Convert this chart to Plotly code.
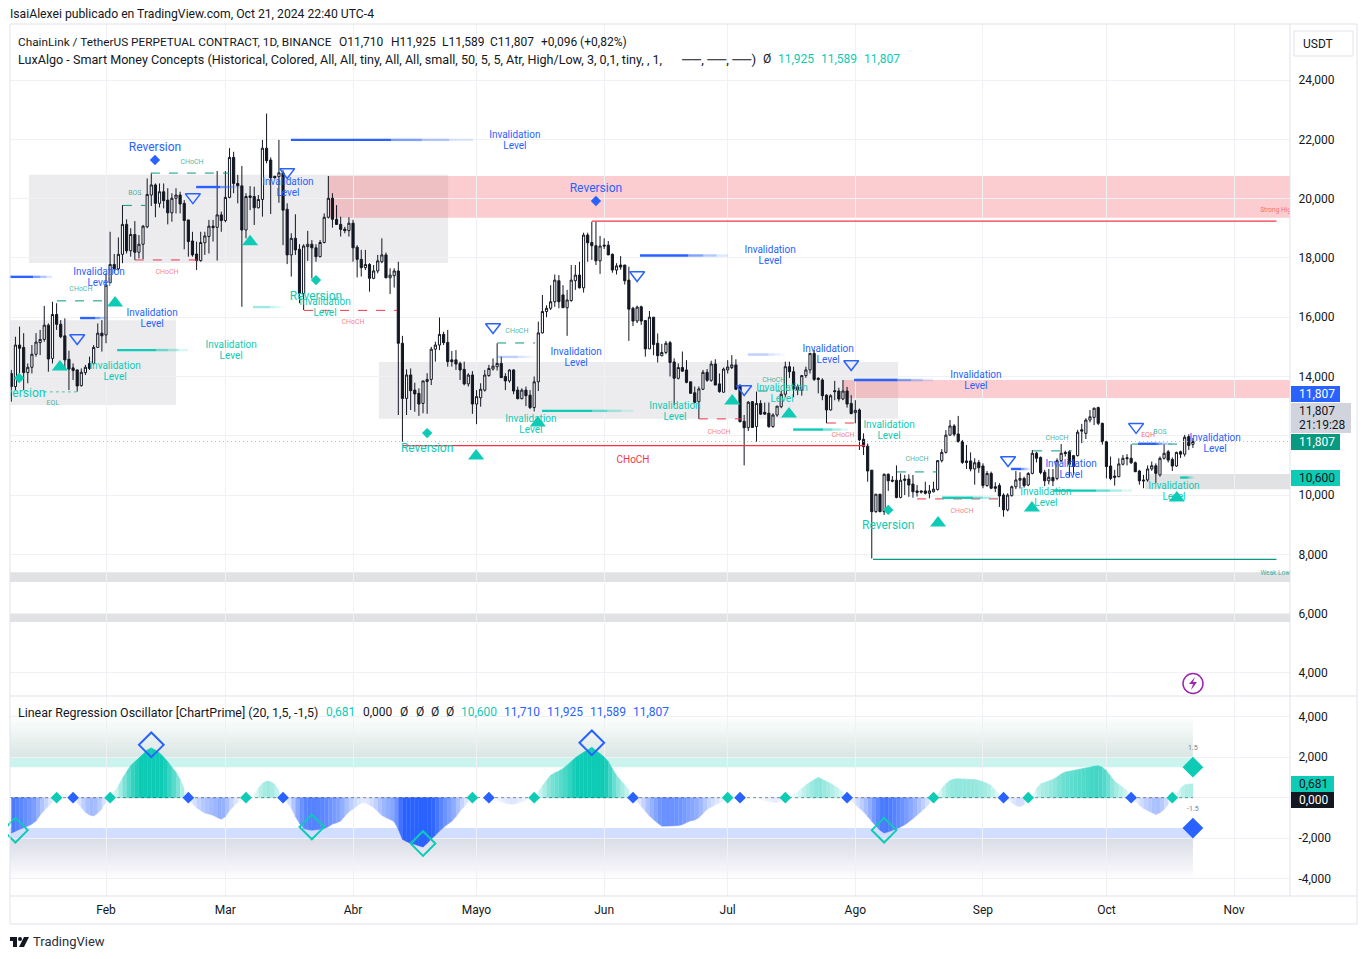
from __future__ import annotations

from datetime import datetime, timedelta

import plotly.graph_objects as go

# the page body keeps its 8 px margin, so the figure is that much smaller
PAGE_MARGIN = 8
WIDTH = 1366 - PAGE_MARGIN
HEIGHT = 959 - PAGE_MARGIN
FONT = "Roboto"

FIRST_BAR = datetime(2024, 1, 9)

# daily OHLC, Jan 9 to Oct 22, one row per month
OPEN = [
    14.10, 13.66, 15.06, 14.98, 14.13, 14.31, 14.75, 15.14, 15.25, 15.73, 14.61, 16.09, 15.76, 15.37, 14.58, 14.29, 14.22, 13.69, 14.13, 14.44, 14.44, 14.98, 15.46,
    15.40, 17.16, 17.78, 17.63, 18.12, 19.13, 18.24, 18.79, 18.19, 18.46, 19.05, 20.12, 20.46, 19.84, 20.23, 19.95, 19.52, 20.01, 20.12, 19.84, 19.28, 18.57, 18.13, 17.91, 18.51, 18.72, 19.07, 19.03, 19.45,
    19.26, 20.04, 21.39, 20.51, 20.43, 18.94, 20.09, 20.07, 19.69, 19.97, 21.70, 21.30, 20.75, 20.74, 20.87, 19.64, 18.10, 18.66, 18.29, 16.80, 18.38, 18.46, 18.34, 18.04, 18.52, 19.37, 20.01, 19.30, 19.13, 18.97, 18.92,
    19.17, 18.36, 17.95, 17.67, 17.78, 17.31, 17.56, 17.87, 18.10, 17.33, 17.40, 17.56, 15.12, 13.26, 14.05, 13.54, 13.43, 13.09, 13.83, 13.90, 14.92, 15.06, 15.42, 15.15, 14.56, 14.56, 14.44, 14.24, 13.75, 14.05,
    13.07, 13.28, 13.54, 14.03, 14.25, 14.33, 14.44, 14.00, 13.85, 14.22, 13.54, 13.25, 13.54, 13.37, 12.95, 13.82, 15.47, 16.19, 16.30, 16.52, 17.23, 16.75, 16.32, 16.56, 17.23, 17.42, 16.99, 18.77, 18.52, 18.41, 17.90,
    18.43, 18.43, 18.12, 17.59, 17.76, 17.76, 17.25, 16.30, 15.87, 16.35, 15.89, 14.93, 16.00, 15.12, 14.70, 14.81, 15.14, 14.49, 13.94, 14.30, 14.22, 13.82, 13.45, 13.15, 13.57, 14.14, 13.87, 14.42, 13.75, 13.47,
    14.22, 14.30, 14.39, 13.71, 12.49, 12.27, 13.15, 12.31, 13.09, 12.79, 12.76, 12.31, 12.70, 12.98, 13.40, 14.33, 14.16, 13.65, 13.54, 14.03, 14.22, 14.78, 13.94, 13.88, 13.37, 12.87, 13.52, 13.51, 13.24, 13.51, 13.09,
    12.78, 12.87, 11.88, 11.65, 10.84, 9.44, 10.03, 9.44, 10.70, 10.50, 10.50, 9.92, 10.54, 10.54, 10.37, 10.14, 10.14, 10.14, 10.06, 10.11, 10.19, 11.16, 11.44, 12.02, 12.33, 12.06, 11.80, 11.15, 11.15, 10.88, 11.10,
    10.98, 10.32, 10.73, 10.28, 10.32, 10.00, 9.50, 9.98, 10.28, 10.50, 10.56, 10.34, 10.73, 11.41, 11.27, 10.77, 10.48, 10.59, 10.56, 11.16, 11.44, 11.46, 11.33, 11.33, 12.20, 12.08, 12.53, 12.62, 12.95, 12.42,
    11.80, 10.98, 10.64, 10.62, 11.04, 11.26, 11.24, 11.09, 10.81, 10.51, 10.51, 10.88, 10.99, 10.68, 11.24, 11.46, 11.20, 10.98, 11.46, 11.38, 11.97, 11.71,
]
HIGH = [
    14.22, 15.34, 15.68, 15.46, 14.44, 15.06, 15.46, 15.57, 16.38, 15.79, 16.52, 16.47, 15.90, 15.96, 14.87, 14.44, 14.24, 14.27, 14.39, 14.67, 15.06, 15.79, 15.90,
    17.48, 18.88, 18.13, 18.69, 19.78, 19.30, 19.00, 19.24, 18.77, 19.11, 20.68, 20.85, 20.51, 20.51, 20.51, 20.35, 20.18, 20.35, 20.23, 19.95, 19.28, 18.88, 18.55, 18.88, 18.88, 19.28, 19.28, 20.93, 19.56,
    20.93, 21.70, 21.58, 20.80, 21.10, 20.18, 20.42, 20.40, 20.12, 21.98, 22.87, 21.39, 20.77, 21.98, 20.96, 19.84, 18.83, 19.47, 18.46, 18.46, 18.91, 18.60, 18.46, 18.60, 19.50, 20.76, 20.18, 19.78, 19.39, 19.05, 19.37,
    19.28, 18.43, 18.27, 18.27, 17.82, 17.76, 18.10, 18.66, 18.18, 17.65, 17.65, 17.87, 15.37, 14.24, 14.27, 13.79, 13.60, 13.85, 14.11, 15.00, 15.17, 15.99, 15.51, 15.57, 14.86, 14.89, 14.50, 14.50, 14.11, 14.18,
    13.54, 13.77, 14.22, 14.39, 14.61, 15.12, 14.67, 14.11, 14.24, 14.24, 13.66, 13.60, 13.66, 13.54, 14.00, 15.85, 16.75, 16.40, 17.08, 17.44, 17.42, 17.08, 16.92, 17.76, 17.76, 17.87, 18.85, 18.85, 19.22, 19.22, 18.74,
    18.66, 18.57, 18.15, 17.82, 18.06, 17.76, 17.70, 16.35, 16.39, 16.39, 15.89, 16.21, 16.00, 15.45, 15.10, 15.20, 15.20, 14.61, 14.44, 14.84, 14.55, 13.82, 13.66, 13.66, 14.22, 14.25, 14.53, 14.58, 14.10, 14.30,
    14.55, 14.72, 14.58, 13.71, 12.70, 13.17, 13.17, 13.49, 13.20, 13.12, 13.12, 12.76, 13.00, 13.52, 14.50, 14.50, 14.33, 13.73, 14.05, 14.33, 14.78, 14.89, 13.97, 13.94, 13.40, 13.40, 13.85, 13.62, 13.88, 13.65, 13.37,
    13.20, 12.92, 12.08, 11.74, 10.84, 10.03, 10.03, 10.73, 10.73, 10.64, 11.00, 10.73, 10.68, 10.70, 10.68, 10.34, 10.15, 10.45, 10.34, 10.45, 11.18, 11.55, 12.19, 12.53, 12.39, 12.67, 11.86, 11.69, 11.44, 11.24, 11.18,
    11.07, 10.81, 10.79, 10.43, 10.40, 10.06, 10.06, 10.32, 10.81, 10.77, 10.62, 10.77, 11.52, 11.46, 11.30, 10.85, 10.88, 10.88, 11.24, 11.72, 11.50, 11.52, 11.35, 12.20, 12.40, 12.59, 12.87, 12.95, 12.98, 12.44,
    11.83, 11.30, 10.85, 11.24, 11.35, 11.38, 11.71, 11.13, 10.85, 10.68, 11.00, 11.13, 11.07, 11.30, 11.71, 11.52, 11.27, 11.46, 11.50, 12.03, 12.05, 11.925,
]
LOW = [
    13.15, 13.54, 14.10, 13.54, 13.77, 14.10, 14.67, 14.72, 15.17, 14.16, 14.44, 15.57, 15.29, 14.27, 13.54, 13.88, 13.49, 13.66, 14.05, 14.22, 14.39, 14.98, 14.84,
    15.12, 17.16, 17.48, 17.59, 17.82, 18.15, 18.04, 17.93, 17.98, 17.96, 19.00, 19.75, 19.37, 19.70, 19.67, 19.13, 19.22, 19.50, 19.50, 18.29, 18.04, 18.04, 17.59, 17.87, 18.10, 18.15, 18.55, 17.91, 18.88,
    19.20, 20.01, 20.18, 19.84, 16.35, 18.66, 19.61, 19.11, 19.67, 19.39, 21.19, 19.48, 20.68, 19.86, 18.43, 17.79, 17.37, 18.10, 16.47, 16.24, 17.90, 17.31, 17.87, 18.02, 18.49, 19.33, 19.02, 19.11, 18.72, 18.83, 18.72,
    17.87, 17.34, 17.37, 17.59, 16.86, 17.28, 17.48, 17.82, 17.31, 16.78, 17.00, 12.70, 11.80, 12.70, 12.87, 12.81, 12.67, 12.76, 12.74, 13.71, 14.50, 14.89, 15.06, 14.33, 14.33, 14.22, 13.88, 13.70, 13.66, 12.74,
    12.39, 12.98, 13.49, 13.99, 14.20, 14.20, 13.96, 13.54, 13.79, 13.40, 13.23, 13.23, 13.00, 12.90, 12.82, 13.51, 15.45, 16.00, 16.24, 16.35, 16.30, 16.32, 15.37, 16.52, 16.92, 16.97, 16.83, 17.87, 17.93, 17.76, 17.46,
    18.30, 18.10, 17.50, 17.44, 17.60, 17.10, 15.20, 15.70, 15.80, 15.74, 14.67, 14.93, 14.72, 14.47, 14.68, 14.75, 14.00, 13.03, 13.90, 14.16, 13.77, 13.43, 13.09, 12.57, 13.54, 13.82, 13.82, 13.71, 13.45, 13.45,
    14.10, 14.25, 13.54, 12.47, 11.00, 12.16, 12.28, 11.80, 12.70, 12.70, 12.27, 12.27, 12.64, 12.93, 13.30, 13.95, 13.30, 13.37, 13.35, 13.95, 14.10, 13.85, 13.43, 13.20, 12.42, 12.85, 13.20, 13.15, 13.20, 12.95, 12.72,
    12.42, 11.52, 11.35, 10.45, 7.86, 9.40, 9.42, 9.33, 10.14, 10.43, 9.89, 9.89, 10.00, 9.94, 9.91, 9.95, 10.05, 10.02, 9.89, 10.09, 10.15, 11.10, 11.40, 12.00, 11.98, 11.78, 11.05, 10.88, 10.80, 10.35, 10.75,
    10.23, 10.28, 10.20, 10.10, 9.60, 9.27, 9.45, 9.95, 10.20, 10.22, 10.25, 10.30, 10.70, 11.10, 10.70, 10.30, 10.36, 10.30, 10.50, 11.10, 11.30, 10.60, 10.68, 11.30, 11.75, 11.89, 12.45, 12.36, 12.36, 11.70,
    10.56, 10.50, 10.32, 10.60, 11.00, 11.00, 11.05, 10.77, 10.35, 10.23, 10.45, 10.82, 10.40, 10.62, 11.20, 11.10, 10.81, 10.95, 11.25, 11.30, 11.52, 11.589,
]
CLOSE = [
    13.66, 15.06, 14.95, 14.13, 14.31, 14.75, 15.16, 15.25, 15.73, 14.59, 16.09, 15.76, 15.34, 14.56, 14.25, 14.20, 13.68, 14.14, 14.31, 14.27, 14.98, 15.46, 15.37,
    17.08, 17.78, 17.63, 18.12, 19.13, 18.24, 18.79, 18.19, 18.46, 19.07, 20.14, 20.46, 19.84, 20.23, 19.93, 19.52, 20.01, 20.12, 19.82, 19.26, 18.55, 18.10, 17.91, 18.52, 18.74, 19.07, 19.02, 19.45, 19.26,
    20.04, 21.39, 20.51, 20.43, 18.94, 20.07, 20.04, 19.69, 19.97, 21.70, 21.28, 20.70, 20.70, 20.87, 19.61, 18.10, 18.66, 18.27, 16.80, 18.40, 18.46, 18.34, 18.04, 18.52, 19.37, 20.01, 19.30, 19.13, 18.96, 18.92, 19.17,
    18.34, 17.95, 17.67, 17.78, 17.31, 17.56, 17.90, 18.10, 17.33, 17.42, 17.56, 15.12, 13.26, 14.05, 13.52, 13.41, 13.07, 13.85, 13.90, 14.92, 15.06, 15.42, 15.14, 14.50, 14.50, 14.42, 14.22, 13.75, 14.05, 13.07,
    13.32, 13.57, 14.05, 14.27, 14.35, 14.44, 13.96, 13.85, 14.22, 13.51, 13.25, 13.54, 13.35, 12.95, 13.82, 15.47, 16.19, 16.30, 16.52, 17.25, 16.52, 16.32, 16.58, 17.25, 17.42, 16.99, 18.77, 18.51, 18.41, 17.90, 18.40,
    18.40, 18.10, 17.59, 17.73, 17.69, 17.23, 16.27, 15.87, 16.34, 15.87, 14.93, 16.00, 15.08, 14.70, 14.81, 15.12, 14.47, 13.94, 14.30, 14.18, 13.80, 13.43, 13.13, 13.58, 14.14, 13.87, 14.42, 13.71, 13.49, 14.25,
    14.32, 14.39, 13.57, 12.47, 12.27, 13.13, 12.28, 13.09, 12.73, 12.73, 12.31, 12.70, 13.00, 13.40, 14.33, 14.16, 13.58, 13.54, 14.03, 14.22, 14.78, 13.90, 13.90, 13.35, 12.87, 13.35, 13.49, 13.24, 13.51, 13.07, 12.75,
    12.86, 11.86, 11.63, 10.81, 9.44, 10.03, 9.44, 10.70, 10.48, 10.47, 9.92, 10.50, 10.50, 10.34, 10.11, 10.09, 10.10, 10.06, 10.14, 10.20, 11.16, 11.44, 12.02, 12.33, 12.05, 11.80, 11.10, 11.10, 10.88, 11.09, 10.92,
    10.32, 10.73, 10.23, 10.23, 9.97, 9.50, 10.00, 10.28, 10.51, 10.56, 10.32, 10.73, 11.41, 11.24, 10.76, 10.48, 10.60, 10.48, 11.16, 11.41, 11.40, 11.04, 10.96, 12.12, 12.16, 12.53, 12.64, 12.93, 12.42, 11.80,
    10.96, 10.56, 10.60, 11.05, 11.24, 11.23, 11.09, 10.79, 10.48, 10.48, 10.88, 10.99, 10.73, 11.24, 11.41, 11.18, 10.98, 11.44, 11.38, 11.95, 11.67, 11.807,
]

# linear regression oscillator, one value per bar
OSCILLATOR = [
    -1.75, -1.65, -1.56, -1.48, -1.40, -1.30, -1.15, -0.85, -0.62, -0.42, -0.20, -0.02, 0.10, 0.19, 0.10, 0.00, -0.24, -0.48, -0.72, -0.85, -0.90, -0.76, -0.55, -0.20,
    0.00, 0.28, 0.57, 0.95, 1.27, 1.58, 1.77, 1.95, 2.14, 2.35, 2.45, 2.34, 2.20, 2.00, 1.77, 1.50, 1.25, 0.90, 0.44, -0.02, -0.30, -0.50, -0.63, -0.75, -0.81, -0.87,
    -0.97, -1.06, -0.93, -0.63, -0.42, -0.23, -0.10, 0.00, 0.06, 0.14, 0.48, 0.70, 0.82, 0.78, 0.65, 0.37, 0.00, -0.25, -0.50, -0.93, -1.26, -1.52, -1.57, -1.60, -1.58,
    -1.55, -1.52, -1.43, -1.30, -1.24, -1.15, -0.90, -0.70, -0.55, -0.40, -0.26, -0.25, -0.36, -0.48, -0.67, -0.87, -0.98, -1.07, -1.18, -1.55, -2.05, -2.16, -2.24, -2.30,
    -2.37, -2.43, -2.25, -2.03, -1.85, -1.64, -1.46, -1.30, -1.16, -0.93, -0.66, -0.43, -0.20, 0.00, 0.02, 0.03, 0.03, 0.02, -0.05, -0.13, -0.20, -0.26, -0.31, -0.32,
    -0.26, -0.20, -0.14, -0.06, 0.00, 0.30, 0.57, 0.84, 1.10, 1.22, 1.31, 1.43, 1.60, 1.78, 1.96, 2.10, 2.23, 2.35, 2.48, 2.32, 2.16, 2.00, 1.77, 1.42, 1.09, 0.85, 0.62,
    0.39, 0.00, -0.20, -0.42, -0.66, -0.90, -1.08, -1.25, -1.40, -1.40, -1.39, -1.38, -1.37, -1.32, -1.22, -1.14, -1.10, -0.98, -0.78, -0.57, -0.46, -0.35, -0.25, -0.14,
    -0.03, 0.00, 0.00, 0.00, 0.00, -0.01, -0.03, -0.05, -0.09, -0.14, -0.18, -0.22, -0.24, -0.14, -0.03, 0.07, 0.17, 0.27, 0.45, 0.62, 0.76, 0.88, 1.00, 0.90, 0.80, 0.70,
    0.57, 0.44, 0.28, 0.05, -0.13, -0.33, -0.52, -0.70, -0.92, -1.16, -1.40, -1.60, -1.74, -1.68, -1.61, -1.53, -1.44, -1.33, -1.19, -1.03, -0.86, -0.68, -0.50, -0.30,
    -0.08, 0.18, 0.45, 0.69, 0.84, 0.92, 0.93, 0.92, 0.91, 0.90, 0.89, 0.85, 0.78, 0.71, 0.59, 0.38, 0.18, 0.05, -0.10, -0.25, -0.38, -0.44, -0.35, -0.14, 0.10, 0.44,
    0.68, 0.75, 0.82, 0.90, 1.02, 1.17, 1.26, 1.30, 1.34, 1.38, 1.42, 1.46, 1.50, 1.55, 1.57, 1.50, 1.33, 1.07, 0.80, 0.65, 0.50, 0.35, 0.05, -0.16, -0.36, -0.53, -0.63,
    -0.73, -0.83, -0.74, -0.58, -0.33, -0.08, 0.20, 0.47, 0.63, 0.66, 0.681,
]
OSC_CROSS_UP = [11, 24, 57, 112, 127, 174, 188, 224, 247, 282]
OSC_CROSS_DOWN = [15, 43, 66, 116, 151, 177, 203, 241, 272]
OSC_LOW_BARS = [1, 73, 100, 212]
OSC_LOW_VALUES = [-1.6, -1.44, -2.26, -1.6]
OSC_HIGH_BARS = [34, 141]
OSC_HIGH_VALUES = [2.6, 2.7]

MONTH_TICKS = ["2024-02-01", "2024-03-01", "2024-04-01", "2024-05-01", "2024-06-01", "2024-07-01", "2024-08-01", "2024-09-01", "2024-10-01", "2024-11-01"]
MONTH_LABELS = ["Feb", "Mar", "Abr", "Mayo", "Jun", "Jul", "Ago", "Sep", "Oct", "Nov"]
PRICE_TICKS = [4, 6, 8, 10, 12, 14, 16, 18, 20, 22, 24]
PRICE_LABELS = ["4,000", "6,000", "8,000", "10,000", "", "14,000", "16,000", "18,000", "20,000", "22,000", "24,000"]
OSC_TICKS = [-4, -2, 0, 2, 4]
OSC_LABELS = ["-4,000", "-2,000", "", "2,000", "4,000"]

# order blocks and zones: first bar, last bar, top, bottom
GREY_ZONES = [
    (4.3, 106.1, 20.80, 17.83),
    (-2, 40.0, 15.90, 13.04),
    (89.3, 215.4, 14.49, 12.57),
]
GREY_DARK_ZONES = [
    (275.4, 312, 10.71, 10.20),
    (-2, 312, 7.40, 7.07),
    (-2, 312, 5.99, 5.72),
]
RED_ZONES = [
    (76.9, 312, 20.76, 19.35),
    (202.0, 312, 13.88, 13.27),
]

# structure levels: first bar, last bar, price
STRONG_HIGH = (141, 307.3, 19.24)
WEAK_LOW = (209.3, 307.3, 7.83)
LONG_CHOCH = (95.1, 207.4, 11.67)
EQUAL_LOW = (7.9, 16.0, 13.48)
GREEN_DASHES = [
    (11.1, 23.0, 16.55), (27.1, 32.5, 19.77), (33.9, 52.9, 20.86), (118.0, 127.2, 15.13),
    (181.4, 186.7, 13.51), (215.1, 224.9, 10.78), (248.2, 257.6, 11.49), (272.2, 285.1, 11.72),
]
RED_DASHES = [
    (30.0, 45.1, 17.93), (71.1, 93.7, 16.23), (167.0, 177.5, 12.57), (198.1, 206.1, 12.43), (220.0, 239.7, 9.87),
]
BLUE_LEVELS = [
    (-0.3, 9.9, 17.36), (16.7, 23.5, 15.97), (44.9, 55.5, 20.39), (67.9, 112.1, 21.98), (152.7, 174.1, 18.08),
    (204.7, 223.9, 13.88), (242.8, 247.4, 10.88), (273.7, 281.9, 11.73),
]
BLUE_FAINT_LEVELS = [(118.0, 127.2, 14.66), (178.9, 187.9, 14.74)]
TEAL_LEVELS = [
    (25.7, 42.9, 14.89), (128.9, 151.0, 12.84), (189.9, 203.2, 12.21), (226.1, 239.7, 9.91),
    (253.0, 272.2, 10.15), (283.9, 287.3, 10.59),
]
TEAL_FAINT_LEVELS = [(58.7, 66.2, 16.34)]

# markers and labels: bars and prices
INV_BLUE_BARS = [122.3, 21.3, 34.2, 67.2, 184.3, 137.2, 198.4, 234.3, 257.4, 292.4]
INV_BLUE_PRICES = [21.94, 17.32, 15.93, 20.35, 18.06, 14.62, 14.72, 13.84, 10.84, 11.72]
INV_TEAL_BARS = [25.2, 53.4, 76.2, 126.2, 161.2, 187.2, 213.2, 251.3, 282.4]
INV_TEAL_PRICES = [14.14, 14.85, 16.30, 12.36, 12.80, 13.40, 12.17, 9.89, 10.10]
REV_BLUE_BARS = [34.9, 142.0]
REV_BLUE_PRICES = [21.71, 20.33]
REV_BLUE_DOT_PRICES = [21.30, 19.92]
REV_TEAL_BARS = [1.9, 74.0, 101.0, 213.0]
REV_TEAL_PRICES = [13.41, 16.68, 11.56, 8.96]
REV_TEAL_DOT_PRICES = [13.95, 17.25, 12.09, 9.50]
UP_BARS = [11.8, 25.2, 58.0, 112.9, 127.9, 175.1, 188.9, 225.1, 247.9, 283.1]
UP_PRICES = [14.32, 16.48, 18.54, 11.32, 12.43, 13.17, 12.73, 9.06, 9.56, 9.90]
DOWN_BARS = [16.0, 44.1, 67.0, 117.0, 152.0, 178.0, 204.0, 242.1, 273.2]
DOWN_PRICES = [15.30, 20.05, 20.90, 15.67, 17.42, 13.58, 14.42, 11.18, 12.30]
CHOCH_GREEN_BARS = [16.9, 43.9, 122.8, 185.2, 220.0, 254.0]
CHOCH_GREEN_PRICES = [16.95, 21.24, 15.54, 13.88, 11.22, 11.93]
CHOCH_RED_BARS = [37.8, 83.0, 171.9, 202.0, 230.9]
CHOCH_RED_PRICES = [17.53, 15.84, 12.13, 12.03, 9.47]
BOS_BARS = [30.0, 279.0]
BOS_PRICES = [20.19, 12.13]

BLUE = "#2962ff"
TEAL = "#0dcbb5"
GREEN = "#089981"
RED = "#f23645"
INK = "#131722"
GRID = "#f0f1f5"
BORDER = "#e0e3eb"
LABEL_LINE_GAP = 0.186


def bar_time(bar):
    return FIRST_BAR + timedelta(days=bar)


def px(x):
    return (x - PAGE_MARGIN) / WIDTH


def py(y):
    return 1 - (y - PAGE_MARGIN) / HEIGHT


def on_white(rgb, alpha):
    # opaque colour, so neighbouring slices of the area show no seam
    r, g, b = [round(255 - (255 - c) * alpha) for c in rgb]
    return f"rgb({r},{g},{b})"


dates = [bar_time(i) for i in range(len(CLOSE))]
fig = go.Figure()


def add_zones(zones, color):
    for start, end, top, bottom in zones:
        fig.add_shape(
            type="rect", xref="x", yref="y", layer="below", line_width=0, fillcolor=color,
            x0=bar_time(start), x1=bar_time(end), y0=bottom, y1=top,
        )


def add_level(level, color, dash="solid", width=1.0):
    start, end, price = level
    fig.add_trace(
        go.Scatter(
            x=[bar_time(start), bar_time(end)], y=[price, price], mode="lines",
            line=dict(color=color, dash=dash, width=width), hoverinfo="skip",
        )
    )


def add_fading_level(level, rgb, strength=1.0):
    # solid for the first part, then steps down to nothing
    start, end, price = level
    length = end - start
    stops = [(0.0, 0.55, 1.0), (0.55, 0.72, 0.6), (0.72, 0.87, 0.35), (0.87, 1.0, 0.15)]
    for low, high, alpha in stops:
        fig.add_trace(
            go.Scatter(
                x=[bar_time(start + low * length), bar_time(start + high * length)], y=[price, price],
                mode="lines", line=dict(color=f"rgba({rgb},{alpha * strength})", width=2.4), hoverinfo="skip",
            )
        )


def add_text(bars, values, text, color, size, xaxis="x", yaxis="y"):
    fig.add_trace(
        go.Scatter(
            x=[bar_time(b) for b in bars], y=values, mode="text", text=[text] * len(bars),
            textposition="middle center", textfont=dict(color=color, size=size, family=FONT),
            xaxis=xaxis, yaxis=yaxis, hoverinfo="skip",
        )
    )


def add_invalidation_labels(bars, prices, color):
    add_text(bars, [p + LABEL_LINE_GAP for p in prices], "Invalidation", color, 10)
    add_text(bars, [p - LABEL_LINE_GAP for p in prices], "Level", color, 10)


def add_markers(bars, values, symbol, size, color, line=None, xaxis="x", yaxis="y"):
    fig.add_trace(
        go.Scatter(
            x=[bar_time(b) for b in bars], y=values, mode="markers",
            marker=dict(symbol=symbol, size=size, color=color, line=line or dict(width=0)),
            xaxis=xaxis, yaxis=yaxis, hoverinfo="skip", cliponaxis=False,
        )
    )


def header_text(x, y, text, color=INK, size=12, anchor="left"):
    fig.add_annotation(
        xref="paper", yref="paper", x=px(x), y=py(y), text=text, showarrow=False,
        xanchor=anchor, yanchor="middle", borderpad=0, borderwidth=0,
        font=dict(color=color, size=size, family=FONT),
    )


def price_tag(x0, x1, y0, y1, color, text, text_color):
    fig.add_shape(
        type="rect", xref="paper", yref="paper", x0=px(x0), x1=px(x1), y0=py(y0), y1=py(y1),
        fillcolor=color, line_width=0,
    )
    header_text(x0 + 8, (y0 + y1) / 2, text, text_color, 12)


# main pane
add_zones(GREY_ZONES, "rgba(120,123,134,0.14)")
add_zones(GREY_DARK_ZONES, "rgba(120,123,134,0.22)")
add_zones(RED_ZONES, "rgba(242,54,69,0.25)")

fig.add_trace(
    go.Candlestick(
        x=dates, open=OPEN, high=HIGH, low=LOW, close=CLOSE,
        increasing=dict(line=dict(color=INK, width=1), fillcolor="#ffffff"),
        decreasing=dict(line=dict(color=INK, width=1), fillcolor=INK),
        hoverinfo="skip",
    )
)

add_level((-2, 312, CLOSE[-1]), "#b2b5be", "1px,3px")
add_level(STRONG_HIGH, RED, width=1.2)
add_level(WEAK_LOW, GREEN, width=1.3)
add_level(LONG_CHOCH, RED, width=1.3)
add_level(EQUAL_LOW, "rgba(8,153,129,0.6)", "dot")
for level in GREEN_DASHES:
    add_level(level, GREEN, "dash")
for level in RED_DASHES:
    add_level(level, RED, "dash")
for level in BLUE_LEVELS:
    add_fading_level(level, "41,98,255")
for level in BLUE_FAINT_LEVELS:
    add_fading_level(level, "41,98,255", 0.3)
for level in TEAL_LEVELS:
    add_fading_level(level, "13,203,181")
for level in TEAL_FAINT_LEVELS:
    add_fading_level(level, "13,203,181", 0.4)

add_markers(UP_BARS, UP_PRICES, "triangle-up", 14, TEAL)
add_markers(DOWN_BARS, DOWN_PRICES, "triangle-down-open", 13, BLUE, dict(width=1.5, color=BLUE))
add_markers(REV_BLUE_BARS, REV_BLUE_DOT_PRICES, "diamond", 8, BLUE)
add_markers(REV_TEAL_BARS, REV_TEAL_DOT_PRICES, "diamond", 8, TEAL)

add_invalidation_labels(INV_BLUE_BARS, INV_BLUE_PRICES, BLUE)
add_invalidation_labels(INV_TEAL_BARS, INV_TEAL_PRICES, TEAL)
add_text(REV_BLUE_BARS, REV_BLUE_PRICES, "Reversion", BLUE, 12)
add_text(REV_TEAL_BARS, REV_TEAL_PRICES, "Reversion", TEAL, 12)
add_text(CHOCH_GREEN_BARS, CHOCH_GREEN_PRICES, "CHoCH", "rgba(8,153,129,0.75)", 7)
add_text(CHOCH_RED_BARS, CHOCH_RED_PRICES, "CHoCH", "rgba(242,54,69,0.65)", 7)
add_text(BOS_BARS, BOS_PRICES, "BOS", "rgba(8,153,129,0.75)", 7)
add_text([10.1], [13.08], "EQL", "rgba(8,153,129,0.75)", 7)
add_text([276.1], [12.03], "EQH", "rgba(242,54,69,0.75)", 7)
add_text([151.0], [11.15], "CHoCH", RED, 10)
add_text([307.5], [19.59], "Strong High", "rgba(242,54,69,0.7)", 6.5)
add_text([307.0], [7.37], "Weak Low", "rgba(8,153,129,0.8)", 6.5)

# oscillator pane
last_bar = len(OSCILLATOR) - 1
for k in range(20):
    low = 2 + k * 0.1
    alpha = 0.19 * (1 - k / 20)
    fig.add_shape(
        type="rect", xref="x2", yref="y2", layer="below", line_width=0,
        fillcolor=f"rgba(60,130,115,{alpha:.3f})",
        x0=bar_time(-2), x1=bar_time(last_bar), y0=low, y1=low + 0.1,
    )
    fig.add_shape(
        type="rect", xref="x2", yref="y2", layer="below", line_width=0,
        fillcolor=f"rgba(60,70,130,{alpha:.3f})",
        x0=bar_time(-2), x1=bar_time(last_bar), y0=-low - 0.1, y1=-low,
    )
fig.add_shape(
    type="rect", xref="x2", yref="y2", layer="below", line_width=0, fillcolor="rgba(13,203,181,0.21)",
    x0=bar_time(-2), x1=bar_time(last_bar), y0=1.5, y1=2,
)
fig.add_shape(
    type="rect", xref="x2", yref="y2", layer="below", line_width=0, fillcolor="rgba(41,98,255,0.21)",
    x0=bar_time(-2), x1=bar_time(last_bar), y0=-2, y1=-1.5,
)

for i in range(last_bar):
    v0, v1 = OSCILLATOR[i], OSCILLATOR[i + 1]
    middle = (v0 + v1) / 2
    alpha = min(1.0, abs(middle) / 2)
    rgb = (13, 203, 181) if middle >= 0 else (41, 98, 255)
    color = on_white(rgb, alpha)
    fig.add_trace(
        go.Scatter(
            x=[dates[i], dates[i + 1], dates[i + 1], dates[i]], y=[v0, v1, 0, 0], mode="lines",
            fill="toself", fillcolor=color, line=dict(width=0.6, color=color),
            xaxis="x2", yaxis="y2", hoverinfo="skip",
        )
    )
fig.add_trace(
    go.Scatter(
        x=[bar_time(-2), dates[-1]], y=[0, 0], mode="lines",
        line=dict(color="rgba(50,50,60,0.55)", dash="dot", width=1), xaxis="x2", yaxis="y2", hoverinfo="skip",
    )
)

add_markers(OSC_CROSS_UP, [0] * len(OSC_CROSS_UP), "diamond", 9, TEAL, xaxis="x2", yaxis="y2")
add_markers(OSC_CROSS_DOWN, [0] * len(OSC_CROSS_DOWN), "diamond", 9, BLUE, xaxis="x2", yaxis="y2")
add_markers(OSC_LOW_BARS, OSC_LOW_VALUES, "diamond-open", 19, TEAL, dict(width=2, color=TEAL), "x2", "y2")
add_markers(OSC_HIGH_BARS, OSC_HIGH_VALUES, "diamond-open", 19, BLUE, dict(width=2, color=BLUE), "x2", "y2")
add_markers([last_bar], [1.5], "diamond", 16, TEAL, xaxis="x2", yaxis="y2")
add_markers([last_bar], [-1.5], "diamond", 16, BLUE, xaxis="x2", yaxis="y2")
add_text([last_bar], [2.44], "1.5", "#787b86", 7, "x2", "y2")
add_text([last_bar], [-0.56], "-1.5", "#787b86", 7, "x2", "y2")

# frame, pane split and axis borders
fig.add_shape(type="rect", xref="paper", yref="paper", x0=px(10), x1=px(1357), y0=py(24), y1=py(924), line=dict(color=BORDER, width=1))
fig.add_shape(type="line", xref="paper", yref="paper", x0=px(10), x1=px(1357), y0=py(696), y1=py(696), line=dict(color=BORDER, width=1))
fig.add_shape(type="line", xref="paper", yref="paper", x0=px(1290), x1=px(1290), y0=py(24), y1=py(896), line=dict(color=BORDER, width=1))
fig.add_shape(type="line", xref="paper", yref="paper", x0=px(10), x1=px(1357), y0=py(896), y1=py(896), line=dict(color=BORDER, width=1))

# price tags
price_tag(1291, 1340, 386, 402, BLUE, "11,807", "#ffffff")
fig.add_shape(type="rect", xref="paper", yref="paper", x0=px(1291), x1=px(1351), y0=py(403), y1=py(433), fillcolor="#d1d4dc", line_width=0)
header_text(1299, 411, "11,807", INK)
header_text(1299, 425, "21:19:28", INK)
price_tag(1291, 1340, 434, 450, GREEN, "11,807", "#ffffff")
price_tag(1291, 1340, 470, 486, TEAL, "10,600", INK)
price_tag(1291, 1334, 776, 792, TEAL, "0,681", INK)
price_tag(1291, 1334, 792, 808, INK, "0,000", "#ffffff")

# currency button
fig.add_shape(type="rect", xref="paper", yref="paper", x0=px(1294), x1=px(1353), y0=py(31), y1=py(56), fillcolor="#ffffff", line=dict(color=BORDER, width=1))
header_text(1303, 44, "USDT")

# bolt badge
fig.add_shape(type="circle", xref="paper", yref="paper", x0=px(1183), x1=px(1203), y0=py(673.5), y1=py(693.5), line=dict(color="#9c27b0", width=1.5))
bolt = [(1195, 677), (1189, 684), (1193, 684), (1191, 690), (1197, 682), (1193, 682)]
fig.add_shape(
    type="path", xref="paper", yref="paper", fillcolor="#9c27b0", line_width=0,
    path="M " + " L ".join(f"{px(x)} {py(y)}" for x, y in bolt) + " Z",
)

# logo
fig.add_shape(
    type="path", xref="paper", yref="paper", fillcolor=INK, line_width=0,
    path="M " + " L ".join(f"{px(x)} {py(y)}" for x, y in [(10, 937), (17, 937), (17, 947), (13, 947), (13, 941), (10, 941)]) + " Z",
)
fig.add_shape(
    type="path", xref="paper", yref="paper", fillcolor=INK, line_width=0,
    path="M " + " L ".join(f"{px(x)} {py(y)}" for x, y in [(24, 937), (29, 937), (24, 947), (19, 947)]) + " Z",
)
fig.add_shape(type="circle", xref="paper", yref="paper", x0=px(18), x1=px(22), y0=py(937), y1=py(941), fillcolor=INK, line_width=0)

# header texts
header_text(10, 14, "IsaiAlexei publicado en TradingView.com, Oct 21, 2024 22:40 UTC-4", size=12.2)
header_text(18, 42, "ChainLink / TetherUS PERPETUAL CONTRACT, 1D, BINANCE", size=11.8)
header_text(339, 42, "O11,710")
header_text(391, 42, "H11,925")
header_text(442, 42, "L11,589")
header_text(490, 42, "C11,807")
header_text(541, 42, "+0,096 (+0,82%)")
header_text(18, 59, "LuxAlgo - Smart Money Concepts (Historical, Colored, All, All, tiny, All, All, small, 50, 5, 5, Atr, High/Low, 3, 0,1, tiny, , 1,", size=12.6)
header_text(681, 59, "──, ──, ──)", size=13.5)
header_text(763, 59, "Ø")
header_text(778, 59, "11,925", TEAL)
header_text(821, 59, "11,589", TEAL)
header_text(864, 59, "11,807", TEAL)
header_text(18, 712, "Linear Regression Oscillator [ChartPrime] (20, 1,5, -1,5)", size=12.45)
header_text(326, 712, "0,681", TEAL)
header_text(363, 712, "0,000")
for x in [400, 416, 431, 446]:
    header_text(x, 712, "Ø")
header_text(461, 712, "10,600", TEAL)
header_text(504, 712, "11,710", BLUE)
header_text(547, 712, "11,925", BLUE)
header_text(590, 712, "11,589", BLUE)
header_text(633, 712, "11,807", BLUE)
header_text(33, 941, "TradingView", "#2a2e39", 13)

x_range = ["2024-01-08 16:20", "2024-11-14 14:00"]
plot_domain = [px(10), px(1290)]
tick_font = dict(color=INK, size=12, family=FONT)

fig.update_layout(
    width=WIDTH,
    height=HEIGHT,
    margin=dict(l=0, r=0, t=0, b=0),
    autosize=False,
    paper_bgcolor="#ffffff",
    plot_bgcolor="#ffffff",
    showlegend=False,
    boxgap=0.25,
    font=dict(family=FONT, color=INK),
    xaxis=dict(
        domain=plot_domain, range=x_range, anchor="y", rangeslider=dict(visible=False),
        tickvals=MONTH_TICKS, ticktext=[""] * len(MONTH_TICKS), gridcolor=GRID, zeroline=False, showline=False, ticks="",
    ),
    yaxis=dict(
        domain=[py(696), py(24)], range=[3.222, 25.889], side="right", anchor="x",
        tickvals=PRICE_TICKS, ticktext=PRICE_LABELS, gridcolor=GRID, zeroline=False, showline=False,
        ticks="outside", ticklen=5, tickcolor="rgba(0,0,0,0)", tickfont=tick_font,
    ),
    xaxis2=dict(
        domain=plot_domain, range=x_range, anchor="y2",
        tickvals=MONTH_TICKS, ticktext=MONTH_LABELS, gridcolor=GRID, zeroline=False, showline=False,
        ticks="outside", ticklen=3, tickcolor="rgba(0,0,0,0)", tickfont=tick_font,
    ),
    yaxis2=dict(
        domain=[py(896), py(697)], range=[-4.842, 4.956], side="right", anchor="x2",
        tickvals=OSC_TICKS, ticktext=OSC_LABELS, gridcolor=GRID, zeroline=False, showline=False,
        ticks="outside", ticklen=5, tickcolor="rgba(0,0,0,0)", tickfont=tick_font,
    ),
)

fig.write_html("out.html")
